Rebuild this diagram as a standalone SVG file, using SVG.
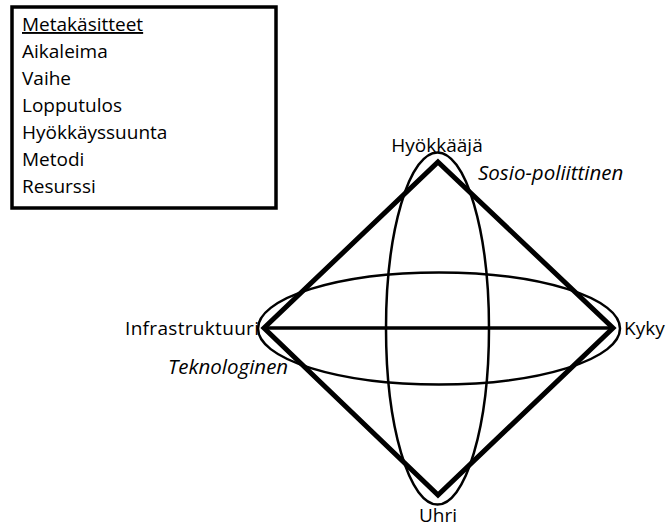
<svg xmlns="http://www.w3.org/2000/svg" width="667" height="527" viewBox="0 0 667 527">
<style>
text{font-family:"Open Sans","Liberation Sans",sans-serif;font-size:19px;fill:#000}
.it{font-style:italic;font-size:20.5px}
.ell{fill:none;stroke:#000;stroke-width:2.5}
</style>
<rect width="667" height="527" fill="#fff"/>
<g id="legend">
<rect x="12" y="7" width="264" height="201" fill="#fff" stroke="#000" stroke-width="3.5"/>
<text x="22" y="31" text-decoration="underline">Metakäsitteet</text>
<text x="22" y="58">Aikaleima</text>
<text x="22" y="85">Vaihe</text>
<text x="22" y="112">Lopputulos</text>
<text x="22" y="139">Hyökkäyssuunta</text>
<text x="22" y="166">Metodi</text>
<text x="22" y="193">Resurssi</text>
</g>
<g id="hyokkaaja"><text x="437" y="152" text-anchor="middle">Hyökkääjä</text></g>
<g id="sosio"><text class="it" x="478" y="180">Sosio-poliittinen</text></g>
<g id="infra"><text x="125" y="335" textLength="134" lengthAdjust="spacing">Infrastruktuuri</text></g>
<g id="tekno"><text class="it" x="168" y="374">Teknologinen</text></g>
<g id="kyky"><text x="624" y="335">Kyky</text></g>
<g id="uhri"><text x="438" y="522" text-anchor="middle">Uhri</text></g>
<g id="connectors">
<ellipse class="ell" cx="437.5" cy="328.5" rx="51.5" ry="176"/>
<ellipse class="ell" cx="439" cy="328.5" rx="181" ry="56"/>
<polygon points="438,162 613,328 438,495 264,328" fill="none" stroke="#000" stroke-width="5" stroke-linejoin="miter"/>
<line x1="264" y1="328" x2="613" y2="328" stroke="#000" stroke-width="3.5"/>
</g>
</svg>
